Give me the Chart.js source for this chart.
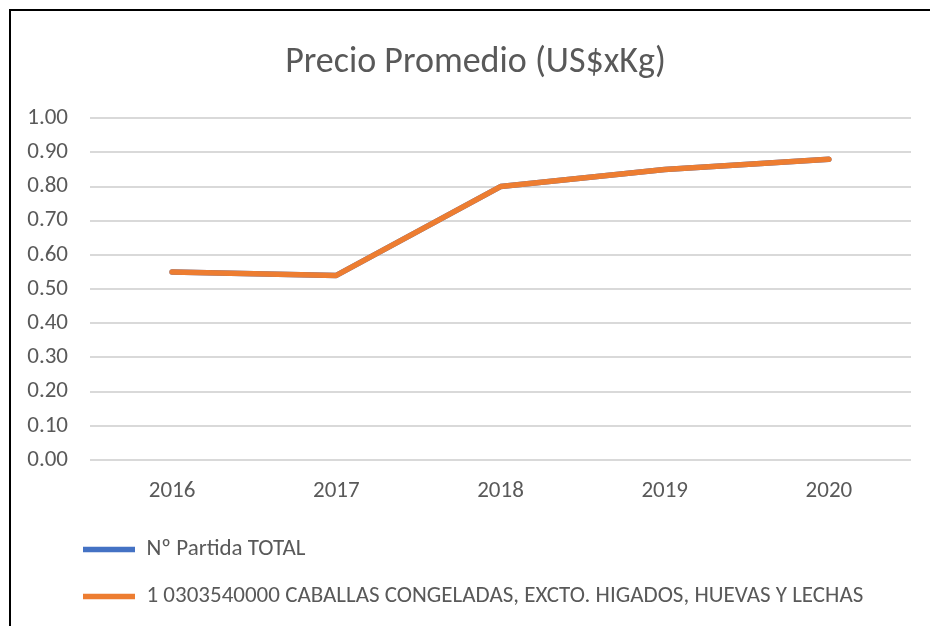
<!DOCTYPE html>
<html>
<head>
<meta charset="utf-8">
<script src="https://cdn.jsdelivr.net/npm/chart.js@4/dist/chart.umd.min.js"></script>
<style>
  html, body { margin: 0; padding: 0; width: 930px; height: 626px; overflow: hidden; background: #fff; }
  #wrap { position: absolute; left: 0; top: 0; width: 930px; height: 640px; }
  #frame { position: absolute; left: 9px; top: 9px; width: 1000px; height: 1000px; border: 2px solid #000; pointer-events: none; }
</style>
</head>
<body>
<div id="wrap"><canvas id="c" width="930" height="640"></canvas></div>
<div id="frame"></div>
<script>
const categories = ['2016', '2017', '2018', '2019', '2020'];
const seriesNames = ['Nº Partida TOTAL', '1 0303540000 CABALLAS CONGELADAS, EXCTO. HIGADOS, HUEVAS Y LECHAS'];
const totalValues = [0.55, 0.54, 0.80, 0.85, 0.88];
const caballasValues = [0.55, 0.54, 0.80, 0.85, 0.88];
const titleText = 'Precio Promedio (US$xKg)';

const FONT = 'Carlito, "Liberation Sans Narrow", "Open Sans", sans-serif';
const GRAY = '#595959';

const shiftBlocks = {
  id: 'shiftBlocks',
  afterLayout(chart) {
    if (chart.titleBlock) { chart.titleBlock.left = 40; }
    if (chart.legend) { chart.legend.left = 59; }
  }
};

new Chart(document.getElementById('c'), {
  type: 'line',
  data: {
    labels: categories,
    datasets: [
      { label: seriesNames[0], data: totalValues, borderColor: '#4472C4', backgroundColor: '#4472C4',
        borderWidth: 5.5, pointRadius: 0, borderCapStyle: 'round', borderJoinStyle: 'round', order: 1 },
      { label: seriesNames[1], data: caballasValues, borderColor: '#ED7D31', backgroundColor: '#ED7D31',
        borderWidth: 5.5, pointRadius: 0, borderCapStyle: 'round', borderJoinStyle: 'round', order: 0 }
    ]
  },
  options: {
    responsive: false,
    animation: false,
    layout: { padding: { left: 18, right: 19, top: 12, bottom: 22 } },
    plugins: {
      title: { display: true, text: titleText, color: GRAY,
        font: { family: FONT, size: 36, weight: 'normal' }, padding: { top: 29, bottom: 34 } },
      legend: {
        position: 'bottom', align: 'start',
        labels: { usePointStyle: true, pointStyle: 'line', pointStyleWidth: 52, color: GRAY,
          font: { family: FONT, size: 23 }, padding: 24,
          sort: (a, b) => a.datasetIndex - b.datasetIndex }
      },
      tooltip: { enabled: false }
    },
    scales: {
      x: {
        offset: true,
        grid: { display: false },
        border: { display: false },
        ticks: { color: GRAY, font: { family: FONT, size: 23 }, padding: 9 },
        afterFit(s) { s.height = 54; }
      },
      y: {
        min: 0, max: 1,
        grid: { color: '#d9d9d9', lineWidth: 2, drawTicks: false },
        border: { display: false },
        ticks: { stepSize: 0.1, color: GRAY, font: { family: FONT, size: 23 }, padding: 22,
          callback: v => Number(v).toFixed(2) },
        afterFit(s) { s.width = 72; }
      }
    }
  },
  plugins: [shiftBlocks]
});
</script>
</body>
</html>
